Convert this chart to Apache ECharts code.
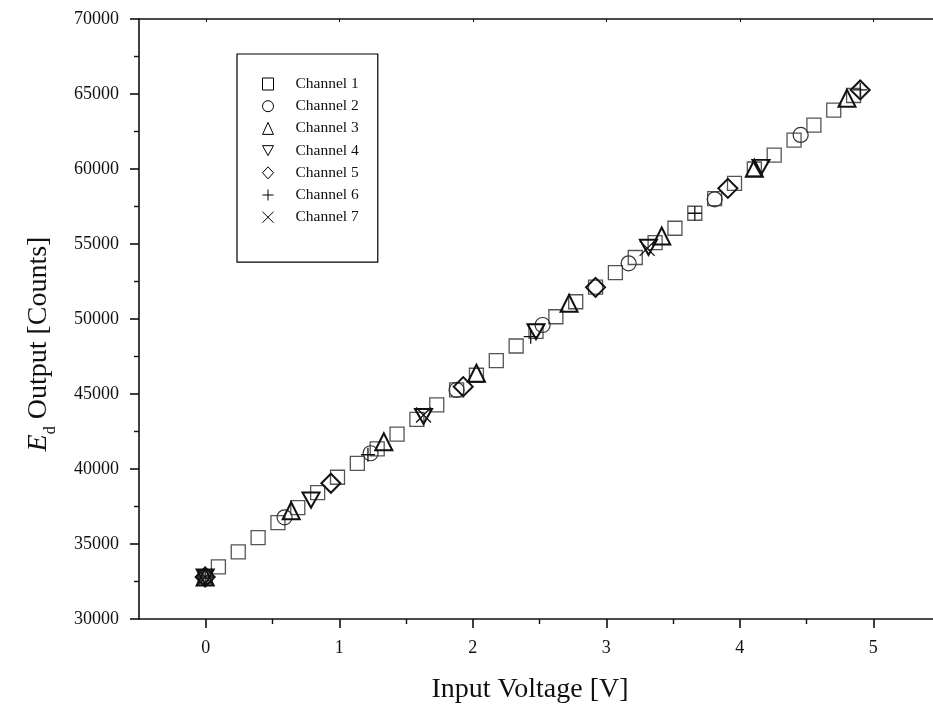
<!DOCTYPE html>
<html><head><meta charset="utf-8">
<script src="https://cdn.jsdelivr.net/npm/echarts@6/dist/echarts.min.js"></script>
<style>html,body{margin:0;padding:0;background:#fff}#c{width:933px;height:709px}</style>
</head><body><div id="c"></div>
<script>
// ---- data ----
const ch1X = [0,0.1,0.25,0.4,0.55,0.7,0.85,1.0,1.15,1.3,1.45,1.6,1.75,1.9,2.05,2.2,2.35,2.5,2.65,2.8,2.95,3.1,3.25,3.4,3.55,3.7,3.85,4.0,4.15,4.3,4.45,4.6,4.75,4.9];
const ch1Y = [32800,33480,34480,35420,36420,37420,38420,39450,40380,41340,42330,43310,44270,45280,46250,47220,48200,49170,50150,51150,52130,53090,54100,55090,56050,57050,58020,59040,60000,60930,61930,62930,63930,64900];
const ch2X = [0,0.6,1.25,1.9,2.55,3.2,3.85,4.5];
const ch2Y = [32800,36780,41050,45270,49600,53710,57980,62270];
const ch3X = [0,0.65,1.35,2.05,2.75,3.45,4.15,4.85];
const ch3Y = [32800,37220,41820,46380,51050,55530,60050,64710];
const ch4X = [0,0.8,1.65,2.5,3.35,4.2];
const ch4Y = [32800,37930,43500,49150,54780,60110];
const ch5X = [0,0.95,1.95,2.95,3.95,4.95];
const ch5Y = [32800,39050,45490,52110,58710,65270];
const ch6X = [0,1.23,2.46,3.7,4.95];
const ch6Y = [32800,40950,48820,57050,65270];
const ch7X = [0,1.65,3.34];
const ch7Y = [32800,43600,54710];
const seriesNames = ['Channel 1','Channel 2','Channel 3','Channel 4','Channel 5','Channel 6','Channel 7'];
const xTickLabels = ['0','1','2','3','4','5'];
const yTickLabels = ['30000','35000','40000','45000','50000','55000','60000','65000','70000'];

const FONT = '"Liberation Serif", "DejaVu Serif", serif';
const pair = (xs, ys) => xs.map((x, i) => [x, ys[i]]);

const styles = [
  {symbol: 'rect', size: 14, color: '#555', width: 1.3},
  {symbol: 'circle', size: 15, color: '#333', width: 1.2},
  {symbol: 'triangle', size: 17, color: '#111', width: 2},
  {symbol: 'path://M0,0 L10,0 L5,9 Z', size: [17, 15], color: '#111', width: 2},
  {symbol: 'diamond', size: 19, color: '#111', width: 2},
  {symbol: 'path://M5,0 L5,10 M0,5 L10,5', size: 14, color: '#111', width: 1.3},
  {symbol: 'path://M0,0 L10,10 M10,0 L0,10', size: 15, color: '#111', width: 1.3}
];
const dataSets = [pair(ch1X,ch1Y),pair(ch2X,ch2Y),pair(ch3X,ch3Y),pair(ch4X,ch4Y),pair(ch5X,ch5Y),pair(ch6X,ch6Y),pair(ch7X,ch7Y)];

const series = dataSets.map((d, i) => ({
  name: seriesNames[i], type: 'scatter', xAxisIndex: 0, yAxisIndex: 0,
  data: d, symbol: styles[i].symbol, symbolSize: styles[i].size,
  itemStyle: {color: 'rgba(0,0,0,0)', borderColor: styles[i].color, borderWidth: styles[i].width, opacity: 1},
  emphasis: {disabled: true}, z: 2 + i
}));

const chart = echarts.init(document.getElementById('c'), null, {renderer: 'canvas'});
chart.setOption({
  animation: false,
  backgroundColor: '#fff',
  grid: [
    {left: 139, top: 19, width: 801, height: 600},
    {left: 205.75, top: 19, width: 667.5, height: 600}
  ],
  legend: {
    orient: 'vertical', left: 237, top: 54,
    padding: [22, 19, 37, 25], itemGap: 6.2,
    itemWidth: 11, itemHeight: 12,
    borderColor: '#000', borderWidth: 1.2,
    itemStyle: {borderWidth: 1, borderColor: '#000'},
    textStyle: {fontFamily: FONT, fontSize: 15.5, color: '#111', padding: [0, 0, 0, 17]},
    data: seriesNames
  },
  xAxis: [
    {type: 'value', gridIndex: 0, min: -0.5, max: 5.5, position: 'bottom',
     axisLine: {show: true, onZero: false, lineStyle: {color: '#111', width: 1.6}}, axisTick: {show: false},
     axisLabel: {show: false}, splitLine: {show: false},
     name: 'Input Voltage [V]', nameLocation: 'middle', nameGap: 57,
     nameTextStyle: {fontFamily: FONT, fontSize: 28, color: '#111', padding: [0, 12, 0, 0]}},
    {type: 'value', gridIndex: 0, min: -0.5, max: 5.5, position: 'top',
     axisLine: {show: true, onZero: false, lineStyle: {color: '#111', width: 1.6}}, axisTick: {show: false},
     axisLabel: {show: false}, splitLine: {show: false}},
    {type: 'value', gridIndex: 1, min: 0, max: 5, interval: 1, position: 'bottom',
     axisLine: {show: false, onZero: false}, axisTick: {show: true, inside: false, length: 9, lineStyle: {color: '#111', width: 1.6}},
     minorTick: {show: true, splitNumber: 2, length: 5, lineStyle: {color: '#111', width: 1.4}},
     axisLabel: {show: true, margin: 20, fontFamily: FONT, fontSize: 18, color: '#111',
       formatter: v => xTickLabels[Math.round(v)]},
     splitLine: {show: false}},
    {type: 'value', gridIndex: 1, min: 0, max: 5, interval: 1, position: 'top',
     axisLine: {show: false, onZero: false}, axisTick: {show: true, inside: true, length: 3, lineStyle: {color: '#111', width: 1}},
     axisLabel: {show: false}, splitLine: {show: false}}
  ],
  yAxis: [
    {type: 'value', gridIndex: 0, min: 30000, max: 70000, interval: 5000, position: 'left',
     axisLine: {show: true, onZero: false, lineStyle: {color: '#111', width: 1.6}},
     axisTick: {show: true, inside: false, length: 9, lineStyle: {color: '#111', width: 1.6}},
     minorTick: {show: true, splitNumber: 2, length: 5, lineStyle: {color: '#111', width: 1.4}},
     axisLabel: {show: true, margin: 20, fontFamily: FONT, fontSize: 18, color: '#111',
       formatter: v => yTickLabels[Math.round((v - 30000) / 5000)]},
     splitLine: {show: false},
     name: '{e|E}{d|d}{t| Output [Counts]}', nameLocation: 'middle', nameRotate: 90, nameGap: 80,
     nameTextStyle: {fontFamily: FONT, fontSize: 28, color: '#111', padding: [0, 50, 0, 0],
       rich: {
         e: {fontFamily: FONT, fontSize: 28, fontStyle: 'italic', color: '#111', lineHeight: 40, verticalAlign: 'middle'},
         d: {fontFamily: FONT, fontSize: 16, color: '#111', lineHeight: 40, verticalAlign: 'bottom'},
         t: {fontFamily: FONT, fontSize: 28, color: '#111', lineHeight: 40, verticalAlign: 'middle'}
       }}},
    {type: 'value', gridIndex: 1, min: 30000, max: 70000, show: false, splitLine: {show: false}}
  ],
  series: series
});
</script>
</body></html>
